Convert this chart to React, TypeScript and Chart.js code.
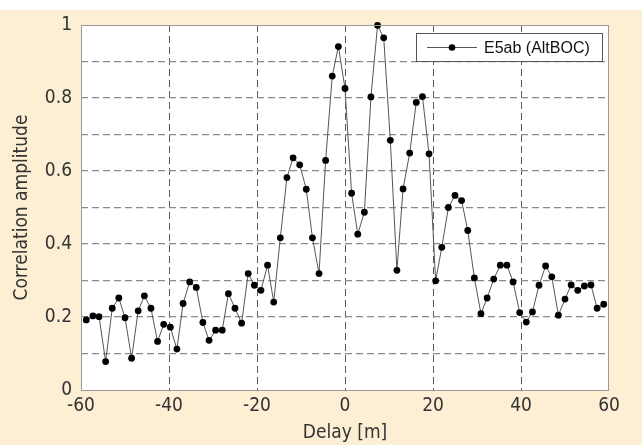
import React, { useEffect, useRef } from "react";
import { Chart, registerables } from "chart.js";

Chart.register(...registerables);

const delay = [
  -58.8, -57.3, -55.9, -54.4, -52.9, -51.4, -50.0, -48.5, -47.0, -45.6,
  -44.1, -42.6, -41.2, -39.7, -38.2, -36.8, -35.3, -33.8, -32.3, -30.9,
  -29.4, -27.9, -26.5, -25.0, -23.5, -22.0, -20.6, -19.1, -17.6, -16.2,
  -14.7, -13.2, -11.8, -10.3, -8.8, -7.4, -5.9, -4.4, -2.9, -1.5,
  0, 1.5, 2.9, 4.4, 5.9, 7.4, 8.8, 10.3, 11.8, 13.2,
  14.7, 16.2, 17.6, 19.1, 20.6, 22.0, 23.5, 25.0, 26.5, 27.9,
  29.4, 30.9, 32.3, 33.8, 35.3, 36.8, 38.2, 39.7, 41.2, 42.6,
  44.1, 45.6, 47.0, 48.5, 50.0, 51.4, 52.9, 54.4, 55.9, 57.3,
  58.8,
];

const amplitude = [
  0.192, 0.203, 0.201, 0.078, 0.224, 0.252, 0.198, 0.087, 0.217, 0.258,
  0.224, 0.133, 0.18, 0.172, 0.112, 0.237, 0.296, 0.281, 0.185, 0.136,
  0.164, 0.164, 0.264, 0.224, 0.183, 0.319, 0.287, 0.273, 0.342, 0.241,
  0.417, 0.582, 0.636, 0.617, 0.55, 0.417, 0.319, 0.629, 0.86, 0.941,
  0.826, 0.539, 0.427, 0.487, 0.803, 0.999, 0.965, 0.684, 0.328, 0.551,
  0.649, 0.788, 0.804, 0.647, 0.299, 0.391, 0.5, 0.533, 0.519, 0.437,
  0.307, 0.209, 0.252, 0.304, 0.342, 0.342, 0.296, 0.212, 0.186, 0.214,
  0.287, 0.34, 0.31, 0.205, 0.249, 0.288, 0.273, 0.285, 0.288, 0.224,
  0.235,
];

const seriesLabel = "E5ab (AltBOC)";
const xTitle = "Delay [m]";
const yTitle = "Correlation amplitude";

const W = 642;
const H = 445;
const BEIGE = "#fdefd3";
const AXIS_FONT = "'DejaVu Sans Condensed', 'DejaVu Sans', sans-serif";

const backgroundPlugin = {
  id: "bgPlugin",
  beforeDraw(chart: any) {
    const { ctx, chartArea } = chart;
    ctx.save();
    ctx.fillStyle = "#ffffff";
    ctx.fillRect(0, 0, W, H);
    ctx.fillStyle = BEIGE;
    ctx.fillRect(0, 10, W, H - 10);
    ctx.fillStyle = "#ffffff";
    ctx.fillRect(chartArea.left, chartArea.top, chartArea.right - chartArea.left, chartArea.bottom - chartArea.top);
    ctx.restore();
  },
  afterDatasetsDraw(chart: any) {
    const { ctx, chartArea } = chart;
    ctx.save();
    ctx.strokeStyle = "#9a9a9a";
    ctx.lineWidth = 1;
    ctx.strokeRect(
      Math.round(chartArea.left) + 0.5,
      Math.round(chartArea.top) + 0.5,
      Math.round(chartArea.right - chartArea.left) - 1,
      Math.round(chartArea.bottom - chartArea.top)
    );
    // legend box
    const bw = 186;
    const bh = 28;
    const bx = Math.round(chartArea.right) - 7 - bw;
    const by = Math.round(chartArea.top) + 8;
    ctx.fillStyle = "#ffffff";
    ctx.fillRect(bx, by, bw, bh);
    ctx.strokeStyle = "#555";
    ctx.strokeRect(bx + 0.5, by + 0.5, bw, bh);
    const ly = by + 14.5;
    ctx.strokeStyle = "#555";
    ctx.beginPath();
    ctx.moveTo(bx + 11, ly);
    ctx.lineTo(bx + 61, ly);
    ctx.stroke();
    ctx.fillStyle = "#000";
    ctx.beginPath();
    ctx.arc(bx + 36, ly, 3.3, 0, Math.PI * 2);
    ctx.fill();
    ctx.fillStyle = "#111";
    ctx.font = "16px 'Liberation Sans', Arial, sans-serif";
    ctx.textBaseline = "middle";
    ctx.textAlign = "left";
    ctx.fillText(seriesLabel, bx + 68, ly + 1);
    ctx.restore();
  },
};

export default function App() {
  const ref = useRef<HTMLCanvasElement | null>(null);

  useEffect(() => {
    if (!ref.current) return;
    const chart = new Chart(ref.current, {
      type: "line",
      data: {
        datasets: [
          {
            label: seriesLabel,
            data: delay.map((d, i) => ({ x: d, y: amplitude[i] })),
            borderColor: "#555",
            borderWidth: 1,
            pointRadius: 3.4,
            pointBackgroundColor: "#000",
            pointBorderWidth: 0,
            tension: 0,
            clip: false as any,
          },
        ],
      },
      options: {
        animation: false,
        responsive: false,
        maintainAspectRatio: false,
        layout: { padding: { top: 25, right: 33, left: 0, bottom: 0 } },
        plugins: { legend: { display: false }, tooltip: { enabled: false } },
        scales: {
          x: {
            type: "linear",
            min: -60,
            max: 60,
            afterFit: (s: any) => {
              s.height = 55;
            },
            ticks: {
              stepSize: 20,
              padding: 5,
              color: "#333",
              font: { family: AXIS_FONT, size: 19 },
              maxRotation: 0,
            },
            grid: {
              drawTicks: false,
              lineWidth: 1,
              color: (c: any) =>
                c.tick && (c.tick.value === -60 || c.tick.value === 60) ? "rgba(0,0,0,0)" : "#5a5a5a",
            },
            border: { display: false, dash: [7, 4] },
            title: {
              display: true,
              text: xTitle,
              color: "#333",
              font: { family: AXIS_FONT, size: 19 },
              padding: { top: 0, bottom: 1 },
            },
          },
          y: {
            type: "linear",
            min: 0,
            max: 1,
            afterFit: (s: any) => {
              s.width = 81;
            },
            ticks: {
              stepSize: 0.1,
              padding: 9,
              color: "#333",
              font: { family: AXIS_FONT, size: 19 },
              callback: (v: any) => {
                const n = Math.round(Number(v) * 10);
                return n % 2 === 0 ? String(n / 10) : "";
              },
            },
            grid: {
              drawTicks: false,
              lineWidth: 1.3,
              color: (c: any) =>
                c.tick && (c.tick.value <= 0.0001 || c.tick.value >= 0.9999) ? "rgba(0,0,0,0)" : "#8a8a8a",
            },
            border: { display: false, dash: [7, 4] },
            title: {
              display: true,
              text: yTitle,
              color: "#333",
              font: { family: AXIS_FONT, size: 19 },
              padding: { top: 11, bottom: 0 },
            },
          },
        },
      },
      plugins: [backgroundPlugin],
    });
    return () => chart.destroy();
  }, []);

  return (
    <div style={{ position: "absolute", left: 0, top: 0, width: W, height: H }}>
      <canvas ref={ref} width={W} height={H} style={{ display: "block" }} />
    </div>
  );
}
